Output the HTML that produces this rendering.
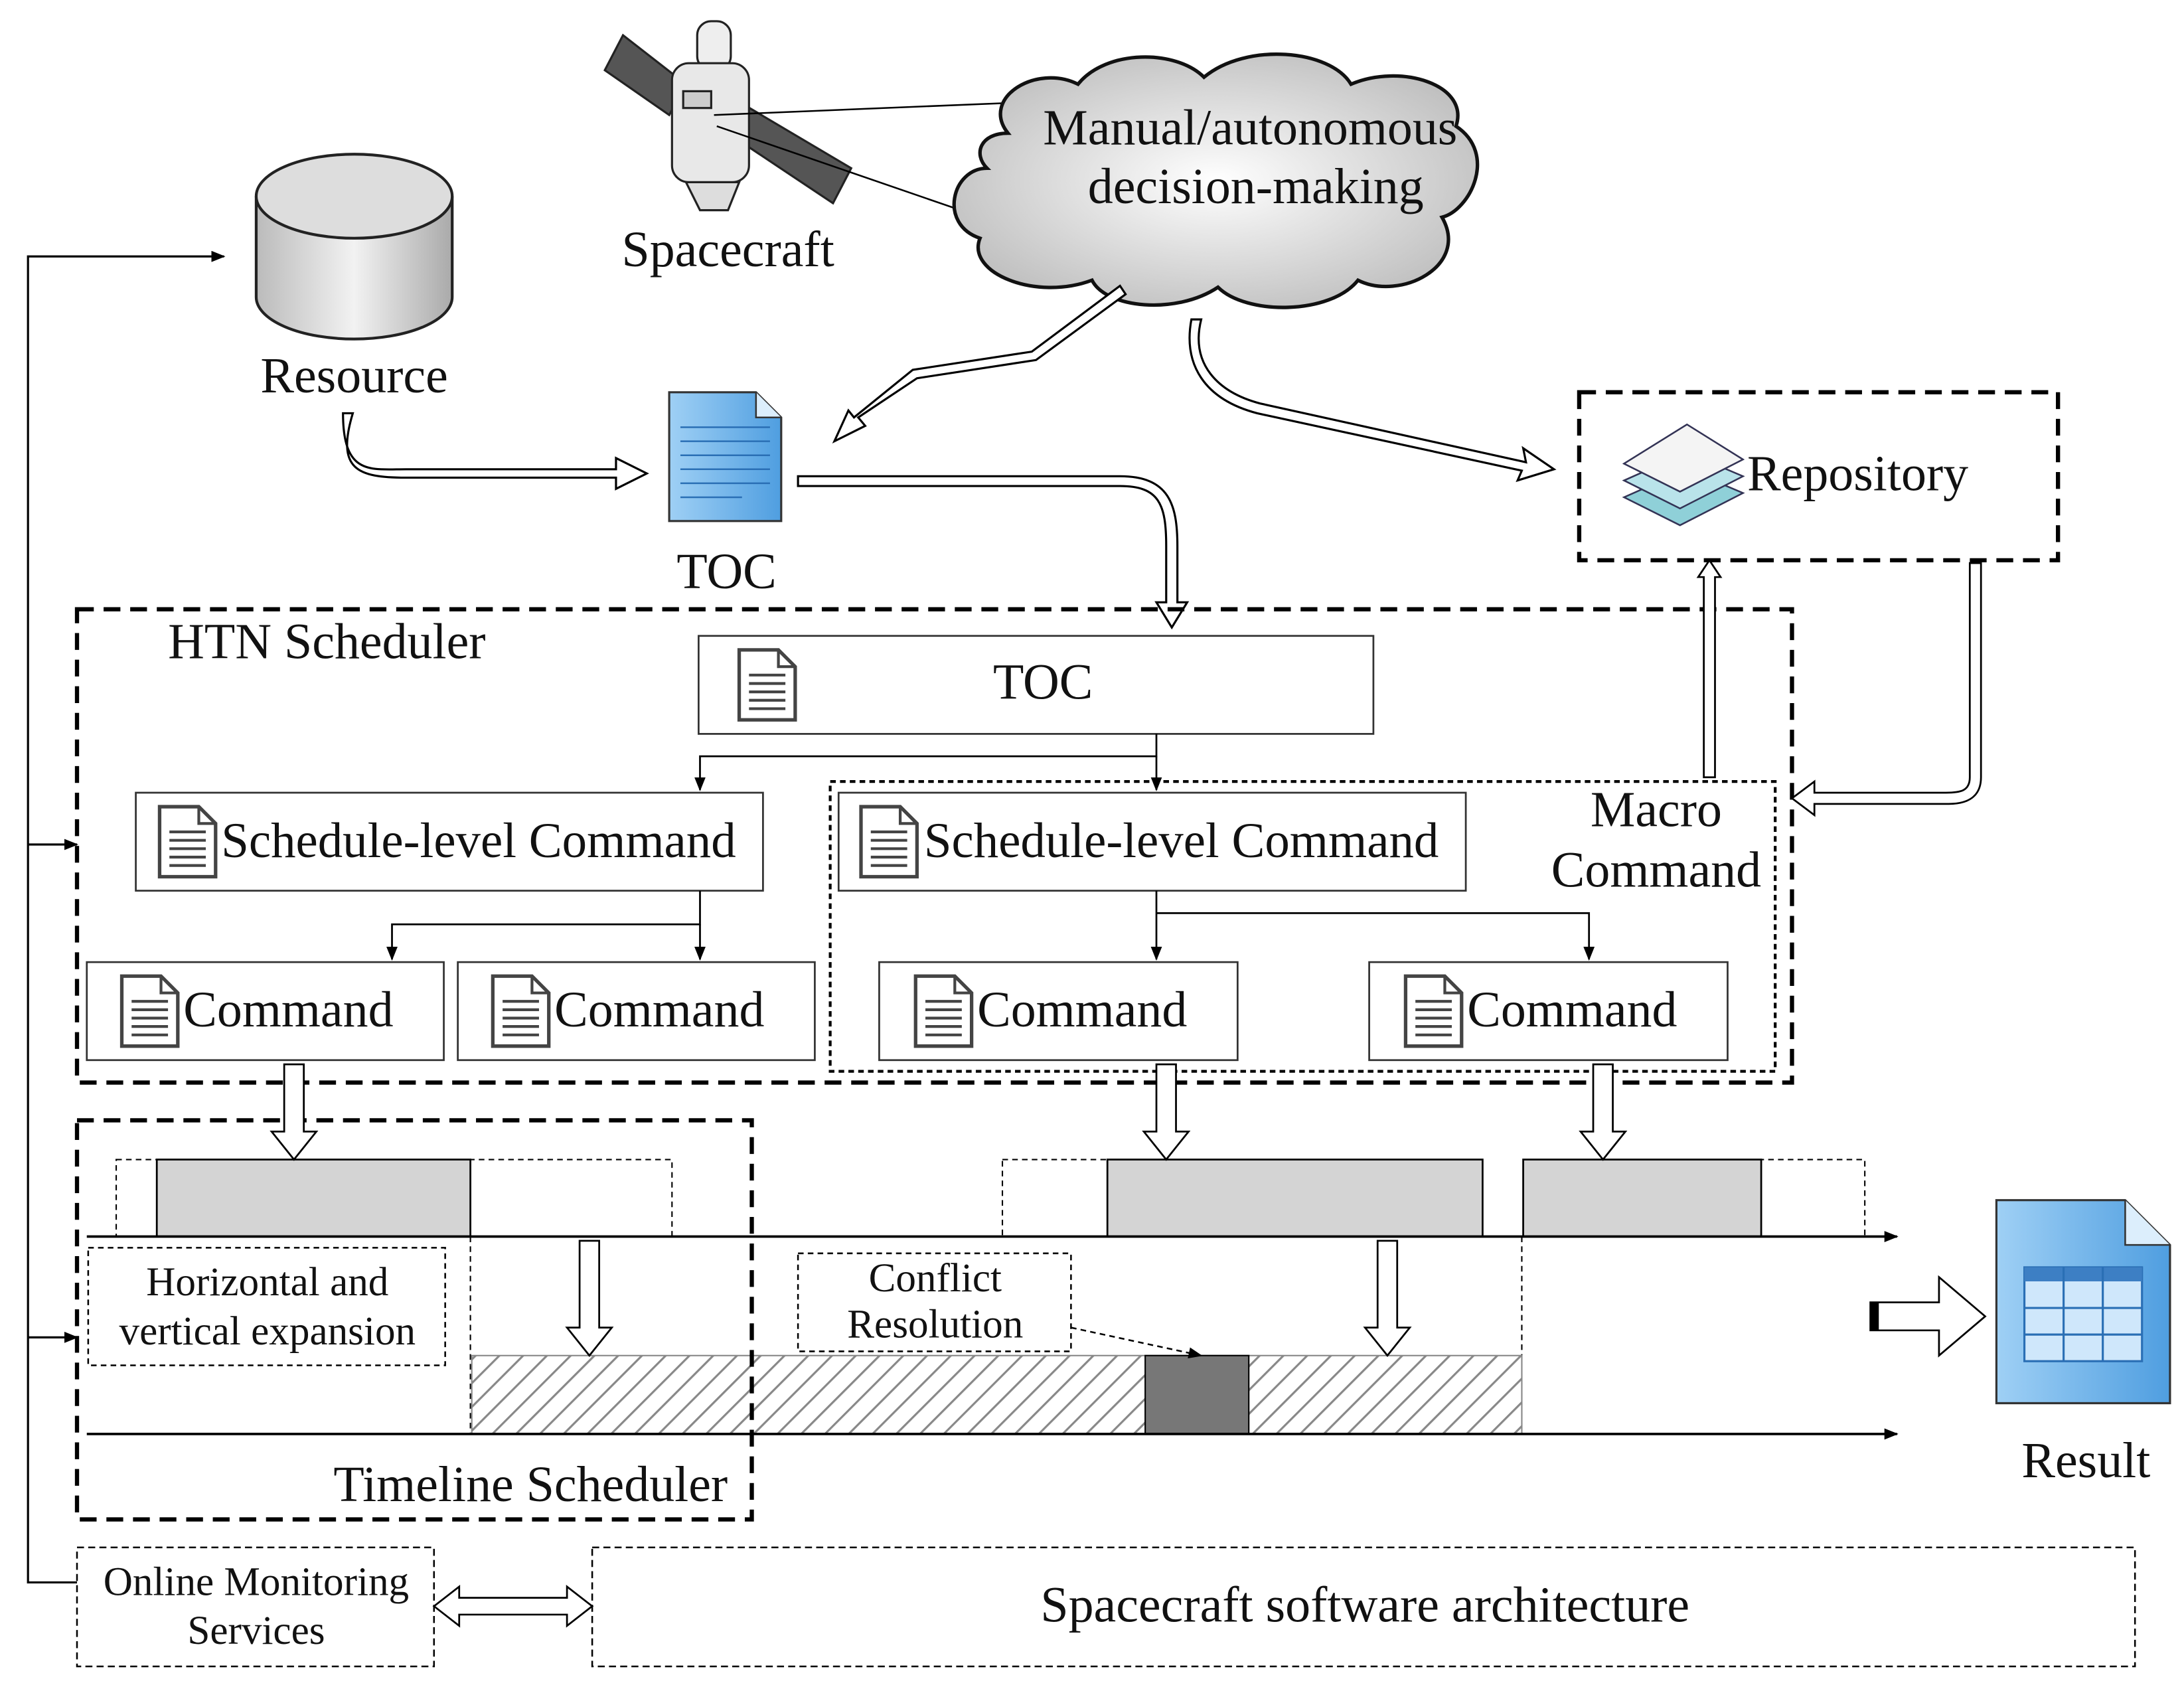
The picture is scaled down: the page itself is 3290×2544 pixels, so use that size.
<!DOCTYPE html>
<html><head><meta charset="utf-8"><style>
html,body{margin:0;padding:0;background:#fff;}
svg{display:block;}
text{font-family:"Liberation Serif",serif;fill:#111;}
</style></head><body>
<svg width="3290" height="2544" viewBox="0 0 1560 1206" xmlns="http://www.w3.org/2000/svg">
<defs>
<marker id="ah" markerWidth="10" markerHeight="8" refX="9" refY="4" orient="auto" markerUnits="userSpaceOnUse"><path d="M0,0 L10,4 L0,8 z" fill="#000"/></marker>
<pattern id="hatch" width="12" height="12" patternUnits="userSpaceOnUse" patternTransform="rotate(45)"><rect width="12" height="12" fill="#fff"/><line x1="0" y1="0" x2="0" y2="12" stroke="#888" stroke-width="3"/></pattern>
<linearGradient id="cyl" x1="0" x2="1"><stop offset="0" stop-color="#bbb"/><stop offset="0.5" stop-color="#f2f2f2"/><stop offset="1" stop-color="#aaa"/></linearGradient>
<radialGradient id="cld" cx="0.5" cy="0.5" r="0.6"><stop offset="0" stop-color="#fff"/><stop offset="1" stop-color="#bbb"/></radialGradient>
<linearGradient id="doc" x1="0" x2="1"><stop offset="0" stop-color="#9fd0f5"/><stop offset="1" stop-color="#4f9ee0"/></linearGradient>
<g id="docicon"><path d="M0,0 H28 L40,12 V50 H0 Z" fill="#fff" stroke="#444" stroke-width="2.5"/><path d="M28,0 V12 H40" fill="none" stroke="#444" stroke-width="2"/><g stroke="#444" stroke-width="2"><line x1="7" y1="18" x2="33" y2="18"/><line x1="7" y1="24" x2="33" y2="24"/><line x1="7" y1="30" x2="33" y2="30"/><line x1="7" y1="36" x2="33" y2="36"/><line x1="7" y1="42" x2="33" y2="42"/></g></g>
</defs>

<g stroke="#000" stroke-width="1.5" fill="none">
<path d="M55,1130 H20 V183 H160" marker-end="url(#ah)"/>
<path d="M20,603 H55" marker-end="url(#ah)"/>
<path d="M20,955 H55" marker-end="url(#ah)"/>
</g>

<path d="M183,140 V212 A70,30 0 0 0 323,212 V140" fill="url(#cyl)" stroke="#222" stroke-width="2"/>
<ellipse cx="253" cy="140" rx="70" ry="30" fill="#ddd" stroke="#222" stroke-width="2"/>
<text x="253" y="280" font-size="36" text-anchor="middle">Resource</text>

<g stroke="#222" stroke-width="1.5">
<polygon points="432,50 445,25 490,60 478,82" fill="#555"/>
<polygon points="520,95 532,75 608,120 595,145" fill="#555"/>
<rect x="498" y="15" width="24" height="35" rx="10" fill="#eee"/>
<rect x="480" y="45" width="55" height="85" rx="12" fill="#e8e8e8"/>
<rect x="488" y="65" width="20" height="12" fill="#ccc"/>
<path d="M490,130 L500,150 H520 L528,130 Z" fill="#ddd"/>
</g>
<text x="520" y="190" font-size="36" text-anchor="middle">Spacecraft</text>
<line x1="510" y1="82" x2="730" y2="73" stroke="#000" stroke-width="1.2"/>
<line x1="512" y1="90" x2="692" y2="152" stroke="#000" stroke-width="1.2"/>

<path d="M720,95 C700,70 740,45 770,60 C790,35 840,35 860,55 C890,30 950,35 965,60 C1000,45 1050,60 1040,90 C1070,110 1050,150 1030,155 C1050,190 1000,215 970,200 C950,225 890,225 870,205 C840,225 790,220 780,200 C740,215 690,195 700,170 C670,160 680,120 705,120 C695,110 700,95 720,95 Z" fill="url(#cld)" stroke="#111" stroke-width="2.5"/>
<text x="893" y="103" font-size="36" text-anchor="middle">Manual/autonomous</text>
<text x="897" y="145" font-size="36" text-anchor="middle">decision-making</text>

<g fill="#fff" stroke="#000" stroke-width="1.5">
<path d="M804,210 L740,257 L655,270 L613,298 L618,304 L596,315 L606,293 L610,298 L652,264 L737,251 L800,204 Z"/>
<path d="M858,228 C850,260 870,280 900,288 L1090,330 L1088,320 L1110,335 L1084,343 L1087,336 L898,295 C860,285 845,260 851,228 Z"/>
<path d="M245,295 C245,340 265,335 290,335 H440 V327 L462,338 L440,349 V341 H290 C255,341 240,335 252,295 Z"/>
<path d="M570,340 H800 C835,340 841,360 841,390 V430 H848 L837,448 L826,430 H833 V390 C833,360 828,347 800,347 H570 Z"/>
</g>

<path d="M478,280 H540 L558,298 V372 H478 Z" fill="url(#doc)" stroke="#333" stroke-width="1.5"/>
<path d="M540,280 V298 H558" fill="#dceefc" stroke="#333" stroke-width="1.2"/>
<g stroke="#2a6fb5" stroke-width="1.2"><line x1="486" y1="305" x2="550" y2="305"/><line x1="486" y1="315" x2="550" y2="315"/><line x1="486" y1="325" x2="550" y2="325"/><line x1="486" y1="335" x2="550" y2="335"/><line x1="486" y1="345" x2="550" y2="345"/><line x1="486" y1="355" x2="530" y2="355"/></g>
<text x="519" y="420" font-size="36" text-anchor="middle">TOC</text>

<rect x="1128" y="280" width="342" height="120" fill="none" stroke="#000" stroke-width="3" stroke-dasharray="12,7"/>
<g stroke="#335" stroke-width="1.2">
<polygon points="1160,355 1205,335 1245,352 1200,375" fill="#8fd0d8"/>
<polygon points="1160,343 1205,323 1245,340 1200,363" fill="#b9e3ea"/>
<polygon points="1160,331 1205,303 1245,328 1200,351" fill="#f4f4f4"/>
</g>
<text x="1248" y="350" font-size="36">Repository</text>

<rect x="55" y="435" width="1225" height="338" fill="none" stroke="#000" stroke-width="3" stroke-dasharray="12,7"/>
<text x="120" y="470" font-size="36">HTN Scheduler</text>
<rect x="593" y="558" width="675" height="207" fill="none" stroke="#000" stroke-width="2" stroke-dasharray="4,3"/>
<text x="1183" y="590" font-size="36" text-anchor="middle">Macro</text>
<text x="1183" y="633" font-size="36" text-anchor="middle">Command</text>

<g fill="#fff" stroke="#333" stroke-width="1.3">
<rect x="499" y="454" width="482" height="70"/>
<rect x="97" y="566" width="448" height="70"/>
<rect x="599" y="566" width="448" height="70"/>
<rect x="62" y="687" width="255" height="70"/>
<rect x="327" y="687" width="255" height="70"/>
<rect x="628" y="687" width="256" height="70"/>
<rect x="978" y="687" width="256" height="70"/>
</g>
<use href="#docicon" x="528" y="464"/>
<text x="745" y="499" font-size="36" text-anchor="middle">TOC</text>
<use href="#docicon" x="114" y="576"/>
<text x="158" y="612" font-size="35.5">Schedule-level Command</text>
<use href="#docicon" x="615" y="576"/>
<text x="660" y="612" font-size="35.5">Schedule-level Command</text>
<use href="#docicon" x="87" y="697"/><text x="131" y="733" font-size="36">Command</text>
<use href="#docicon" x="352" y="697"/><text x="396" y="733" font-size="36">Command</text>
<use href="#docicon" x="654" y="697"/><text x="698" y="733" font-size="36">Command</text>
<use href="#docicon" x="1004" y="697"/><text x="1048" y="733" font-size="36">Command</text>

<g stroke="#000" stroke-width="1.3" fill="none">
<path d="M826,524 V540 H500 V564" marker-end="url(#ah)"/>
<path d="M826,540 V564" marker-end="url(#ah)"/>
<path d="M500,636 V660 H280 V685" marker-end="url(#ah)"/>
<path d="M500,660 V685" marker-end="url(#ah)"/>
<path d="M826,636 V685" marker-end="url(#ah)"/>
<path d="M826,652 H1135 V685" marker-end="url(#ah)"/>
</g>

<g fill="#fff" stroke="#000" stroke-width="1.3">
<path d="M1217,555 V412 H1213 L1221,400 L1229,412 H1225 V555 Z"/>
<path d="M1407,402 V555 C1407,565 1400,566 1390,566 H1296 V558 L1280,570 L1296,582 V574 H1392 C1410,574 1415,565 1415,555 V402 Z"/>
</g>

<g fill="none" stroke="#000" stroke-width="1" stroke-dasharray="4,3">
<rect x="83" y="828" width="397" height="55"/>
<rect x="716" y="828" width="343" height="55"/>
<rect x="1088" y="828" width="244" height="55"/>
<line x1="336" y1="883" x2="336" y2="1024"/>
<line x1="1087" y1="883" x2="1087" y2="1024"/>
</g>
<g fill="#d4d4d4" stroke="#000" stroke-width="1.3">
<rect x="112" y="828" width="224" height="55"/>
<rect x="791" y="828" width="268" height="55"/>
<rect x="1088" y="828" width="170" height="55"/>
</g>
<rect x="337" y="968" width="750" height="56" fill="url(#hatch)" stroke="#888" stroke-width="1"/>
<rect x="818" y="968" width="74" height="56" fill="#777" stroke="#000" stroke-width="1"/>
<g stroke="#000" stroke-width="1.8">
<line x1="62" y1="883" x2="1355" y2="883" marker-end="url(#ah)"/>
<line x1="62" y1="1024" x2="1355" y2="1024" marker-end="url(#ah)"/>
</g>
<rect x="55" y="800" width="482" height="285" fill="none" stroke="#000" stroke-width="3" stroke-dasharray="12,7"/>
<text x="379" y="1072" font-size="36" text-anchor="middle">Timeline Scheduler</text>

<g fill="#fff" stroke="#000" stroke-width="1.3">
<path d="M203,760 H217 V808 H226 L210,828 L194,808 H203 Z"/>
<path d="M826,760 H840 V808 H849 L833,828 L817,808 H826 Z"/>
<path d="M1138,760 H1152 V808 H1161 L1145,828 L1129,808 H1138 Z"/>
<path d="M414,886 H428 V948 H437 L421,968 L405,948 H414 Z"/>
<path d="M984,886 H998 V948 H1007 L991,968 L975,948 H984 Z"/>
</g>

<rect x="63" y="891" width="255" height="84" fill="#fff" stroke="#000" stroke-width="1.2" stroke-dasharray="4,3"/>
<text x="191" y="925" font-size="29" text-anchor="middle">Horizontal and</text>
<text x="191" y="960" font-size="29" text-anchor="middle">vertical expansion</text>
<rect x="570" y="895" width="195" height="70" fill="#fff" stroke="#000" stroke-width="1.2" stroke-dasharray="4,3"/>
<text x="668" y="922" font-size="29" text-anchor="middle">Conflict</text>
<text x="668" y="955" font-size="29" text-anchor="middle">Resolution</text>
<path d="M765,948 L858,968" stroke="#000" stroke-width="1.2" stroke-dasharray="4,3" fill="none" marker-end="url(#ah)"/>

<path d="M1336,930 V950 H1385 V968 L1418,940 L1385,912 V930 Z" fill="#fff" stroke="#000" stroke-width="1.3"/>
<rect x="1336" y="930" width="6" height="20" fill="#000"/>
<path d="M1426,857 H1518 L1550,889 V1002 H1426 Z" fill="url(#doc)" stroke="#333" stroke-width="1.5"/>
<path d="M1518,857 V889 H1550" fill="#dceefc" stroke="#333" stroke-width="1.2"/>
<g fill="#cfe7fb" stroke="#2a6fb5" stroke-width="1.5"><rect x="1446" y="905" width="84" height="67"/></g>
<rect x="1446" y="905" width="84" height="10" fill="#3d7fc4"/>
<g stroke="#2a6fb5" stroke-width="1.5"><line x1="1474" y1="905" x2="1474" y2="972"/><line x1="1502" y1="905" x2="1502" y2="972"/><line x1="1446" y1="934" x2="1530" y2="934"/><line x1="1446" y1="953" x2="1530" y2="953"/></g>
<text x="1490" y="1055" font-size="36" text-anchor="middle">Result</text>

<rect x="55" y="1105" width="255" height="85" fill="none" stroke="#000" stroke-width="1.2" stroke-dasharray="5,3"/>
<text x="183" y="1139" font-size="29" text-anchor="middle">Online Monitoring</text>
<text x="183" y="1174" font-size="29" text-anchor="middle">Services</text>
<rect x="423" y="1105" width="1102" height="85" fill="none" stroke="#000" stroke-width="1.2" stroke-dasharray="5,3"/>
<text x="975" y="1158" font-size="36" text-anchor="middle">Spacecraft software architecture</text>
<path d="M310,1147 L328,1133 V1141 H405 V1133 L423,1147 L405,1161 V1153 H328 V1161 Z" fill="#fff" stroke="#000" stroke-width="1.3"/>
</svg>
</body></html>
